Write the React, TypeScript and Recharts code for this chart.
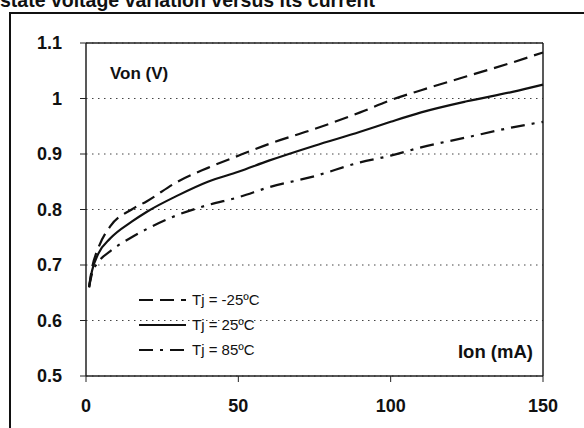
import { LineChart, Line, XAxis, YAxis, CartesianGrid, ReferenceLine } from 'recharts';

const currents = [1, 2, 4, 8, 15, 20, 30, 40, 50, 60, 75, 90, 100, 110, 125, 140, 150];
const vMinus25 = [0.66, 0.695, 0.73, 0.77, 0.8, 0.815, 0.85, 0.875, 0.897, 0.918, 0.945, 0.975, 0.997, 1.015, 1.04, 1.065, 1.083];
const v25 = [0.66, 0.69, 0.72, 0.748, 0.778, 0.796, 0.825, 0.85, 0.868, 0.888, 0.915, 0.94, 0.958, 0.975, 0.995, 1.012, 1.025];
const v85 = [0.66, 0.685, 0.705, 0.725, 0.75, 0.765, 0.79, 0.808, 0.822, 0.84, 0.86, 0.885, 0.897, 0.912, 0.93, 0.948, 0.958];

const xTicks = [0, 50, 100, 150];
const yTicks = [0.5, 0.6, 0.7, 0.8, 0.9, 1, 1.1];
const yTickLabels = ['0.5', '0.6', '0.7', '0.8', '0.9', '1', '1.1'];

const seriesNames = ['Tj = -25ºC', 'Tj = 25ºC', 'Tj = 85ºC'];
const dashes = ['14 7', '', '14 7 3 7'];

const data = currents.map((c, i) => ({ ion: c, a: vMinus25[i], b: v25[i], c: v85[i] }));

const FONT = '"Liberation Sans", Arial, sans-serif';
const INK = '#111';

function LegendBox() {
  return (
    <div style={{ position: 'absolute', left: 139, top: 287, fontFamily: FONT, fontSize: 15, color: INK }}>
      {seriesNames.map((name, i) => (
        <div key={name} style={{ display: 'flex', alignItems: 'center', height: 25 }}>
          <svg width={48} height={6}>
            <line x1={0} y1={3} x2={47} y2={3} stroke={INK} strokeWidth={2.2} strokeDasharray={dashes[i]} />
          </svg>
          <span style={{ marginLeft: 5 }}>{name}</span>
        </div>
      ))}
    </div>
  );
}

export default function App() {
  return (
    <div style={{ position: 'absolute', left: 0, top: 0, width: 584, height: 428, overflow: 'hidden', background: '#fff', fontFamily: FONT }}>
      <div style={{ position: 'absolute', left: 0, top: -10, fontSize: 19.5, lineHeight: '20px', fontWeight: 'bold', whiteSpace: 'nowrap', color: INK }}>
        state voltage variation versus its current
      </div>
      <div style={{ position: 'absolute', left: 9, top: 12, width: 600, height: 500, borderLeft: `2px solid ${INK}`, borderTop: `2px solid ${INK}` }} />
      <div style={{ position: 'absolute', left: 0, top: 0 }}>
        <LineChart width={584} height={428} data={data} margin={{ top: 43, right: 41, bottom: 22, left: 46 }}>
          <CartesianGrid horizontal vertical={false} stroke="#444" strokeDasharray="1.5 4.5" />
          <XAxis
            dataKey="ion"
            type="number"
            domain={[0, 150]}
            ticks={xTicks}
            height={30}
            tick={{ fill: INK, fontSize: 18, fontWeight: 'bold', fontFamily: FONT }}
            tickSize={6}
            tickMargin={17}
            axisLine={{ stroke: '#222', strokeWidth: 1.5 }}
            tickLine={{ stroke: '#222' }}
          />
          <YAxis
            type="number"
            domain={[0.5, 1.1]}
            ticks={yTicks}
            width={40}
            tickFormatter={(v: number) => yTickLabels[yTicks.indexOf(v)] ?? String(v)}
            tick={{ fill: INK, fontSize: 18, fontWeight: 'bold', fontFamily: FONT }}
            tickSize={6}
            tickMargin={18}
            axisLine={{ stroke: '#222', strokeWidth: 1.5 }}
            tickLine={{ stroke: '#222' }}
          />
          <ReferenceLine y={1.1} stroke="#222" strokeWidth={1.5} />
          <ReferenceLine x={150} stroke="#222" strokeWidth={1.5} />
          <Line type="monotone" dataKey="a" name={seriesNames[0]} stroke={INK} strokeWidth={2.2} strokeDasharray={dashes[0]} dot={false} isAnimationActive={false} />
          <Line type="monotone" dataKey="b" name={seriesNames[1]} stroke={INK} strokeWidth={2.2} dot={false} isAnimationActive={false} />
          <Line type="monotone" dataKey="c" name={seriesNames[2]} stroke={INK} strokeWidth={2.2} strokeDasharray={dashes[2]} dot={false} isAnimationActive={false} />
        </LineChart>
      </div>
      <LegendBox />
      <div style={{ position: 'absolute', left: 110, top: 64, fontSize: 17, fontWeight: 'bold', color: INK }}>Von (V)</div>
      <div style={{ position: 'absolute', right: 51, top: 341, fontSize: 18.5, fontWeight: 'bold', color: INK }}>Ion (mA)</div>
    </div>
  );
}
